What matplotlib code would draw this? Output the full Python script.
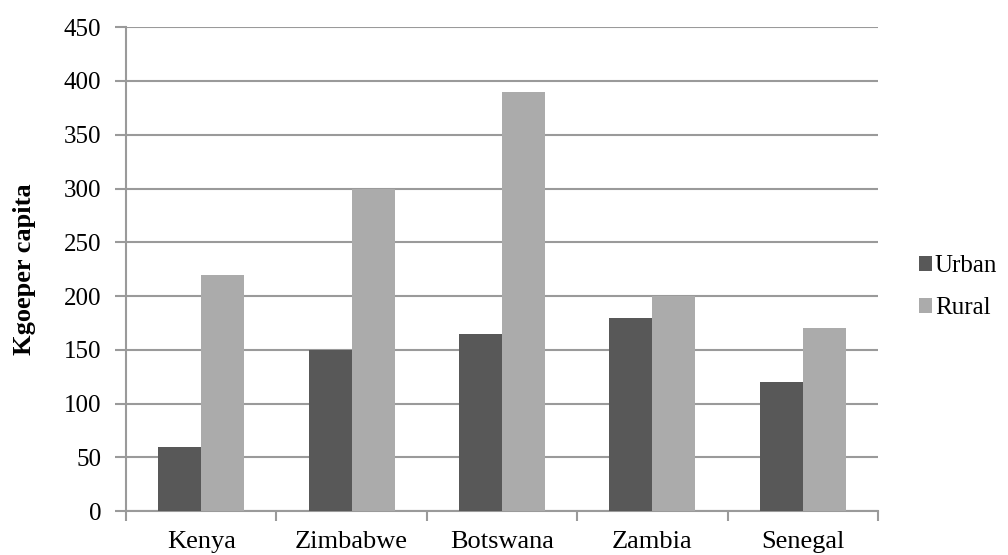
import matplotlib
matplotlib.use("Agg")
import matplotlib.pyplot as plt
import numpy as np

countries = ["Kenya", "Zimbabwe", "Botswana", "Zambia", "Senegal"]
urban = [60, 150, 165, 180, 120]
rural = [220, 300, 390, 200, 170]
y_ticks = [0, 50, 100, 150, 200, 250, 300, 350, 400, 450]

plt.rcParams["font.family"] = ["Liberation Serif", "DejaVu Serif"]

fig = plt.figure(figsize=(10.08, 5.55), dpi=100)
ax = fig.add_axes([0.125, 0.079, 0.746, 0.872])

x = np.arange(len(countries))
w = 1 / 3.5
ax.bar(x - w / 2, urban, width=w, color="#585858", label="Urban", zorder=3)
ax.bar(x + w / 2, rural, width=w, color="#ababab", label="Rural", zorder=3)

grid_col = "#9a9a9a"
ax.set_xlim(-0.5, len(countries) - 0.5)
ax.set_ylim(0, 450)
ax.set_yticks(y_ticks)
ax.set_yticklabels([str(v) for v in y_ticks], fontsize=18)
ax.yaxis.grid(True, color=grid_col, linewidth=1.5, zorder=0)

# category labels centred, tick marks between groups
ax.set_xticks(x)
ax.set_xticklabels(countries, fontsize=19)
ax.tick_params(axis="x", length=0, pad=14)
ax.set_xticks(np.arange(-0.5, len(countries)), minor=True)
ax.tick_params(axis="x", which="minor", length=7, color=grid_col, width=1.5)
ax.tick_params(axis="y", length=8, color=grid_col, width=1.5, pad=10)

for side in ["top", "right"]:
    ax.spines[side].set_visible(False)
for side in ["left", "bottom"]:
    ax.spines[side].set_color(grid_col)
    ax.spines[side].set_linewidth(1.5)

ax.set_ylabel("Kgoeper capita", fontsize=19, fontweight="bold", labelpad=20)

fig.legend(loc="center left", bbox_to_anchor=(0.899, 0.482), frameon=False,
           fontsize=18, handlelength=0.55, handleheight=0.55,
           handletextpad=0.1, labelspacing=0.8, borderpad=0)

fig.savefig("out.png", dpi=100)
